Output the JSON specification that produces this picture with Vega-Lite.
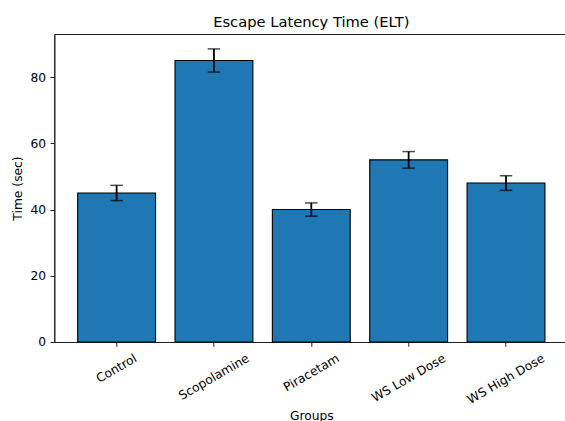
{
  "$schema": "https://vega.github.io/schema/vega-lite/v6.json",
  "width": 514,
  "height": 308,
  "autosize": {"type": "none"},
  "padding": {"left": 54.3, "top": 34, "right": 0, "bottom": 79},
  "background": "white",
  "config": {
    "font": "DejaVu Sans",
    "view": {"stroke": "#222", "strokeWidth": 1},
    "axis": {
      "grid": false,
      "domainColor": "#222",
      "domainWidth": 1,
      "tickColor": "#222",
      "tickWidth": 1,
      "tickSize": 4.3,
      "labelFont": "DejaVu Sans",
      "labelFontSize": 12.3,
      "labelColor": "#000",
      "titleFont": "DejaVu Sans",
      "titleFontSize": 12.3,
      "titleFontWeight": "normal",
      "titleColor": "#000"
    }
  },
  "title": {
    "text": "Escape Latency Time (ELT)",
    "font": "DejaVu Sans",
    "fontSize": 14.7,
    "fontWeight": "normal",
    "color": "#000",
    "anchor": "middle",
    "frame": "group",
    "baseline": "bottom",
    "offset": 4,
    "dy": 15
  },
  "data": {
    "values": [
      {"group": "Control", "time": 45, "low": 42.7, "high": 47.3},
      {"group": "Scopolamine", "time": 85, "low": 81.5, "high": 88.5},
      {"group": "Piracetam", "time": 40, "low": 38, "high": 42},
      {"group": "WS Low Dose", "time": 55, "low": 52.5, "high": 57.5},
      {"group": "WS High Dose", "time": 48, "low": 45.8, "high": 50.2}
    ]
  },
  "encoding": {
    "x": {
      "field": "group",
      "type": "nominal",
      "sort": null,
      "scale": {"paddingInner": 0.2, "paddingOuter": 0.24},
      "axis": {
        "title": "Groups",
        "labelAngle": -30,
        "labelAlign": "center",
        "labelBaseline": "middle",
        "labelPadding": {
          "condition": [
            {"test": "datum.value === 'Control'", "value": 21.7},
            {"test": "datum.value === 'Scopolamine'", "value": 30.2},
            {"test": "datum.value === 'Piracetam'", "value": 26.0},
            {"test": "datum.value === 'WS Low Dose'", "value": 31.3}
          ],
          "value": 32.2
        },
        "titlePadding": 4
      }
    }
  },
  "layer": [
    {
      "mark": {"type": "bar", "fill": "#1f77b4", "stroke": "#000", "strokeWidth": 1.1},
      "encoding": {
        "y": {
          "field": "time",
          "type": "quantitative",
          "scale": {"domain": [0, 93], "nice": false},
          "axis": {"title": "Time (sec)", "values": [0, 20, 40, 60, 80], "labelPadding": 4.3, "titlePadding": 6}
        }
      }
    },
    {
      "mark": {"type": "rule", "color": "#000", "strokeWidth": 1.8},
      "encoding": {
        "y": {"field": "low", "type": "quantitative"},
        "y2": {"field": "high"}
      }
    },
    {
      "mark": {"type": "tick", "color": "#000", "thickness": 1.5, "size": 12.5},
      "encoding": {"y": {"field": "low", "type": "quantitative"}}
    },
    {
      "mark": {"type": "tick", "color": "#000", "thickness": 1.5, "size": 12.5},
      "encoding": {"y": {"field": "high", "type": "quantitative"}}
    }
  ]
}
